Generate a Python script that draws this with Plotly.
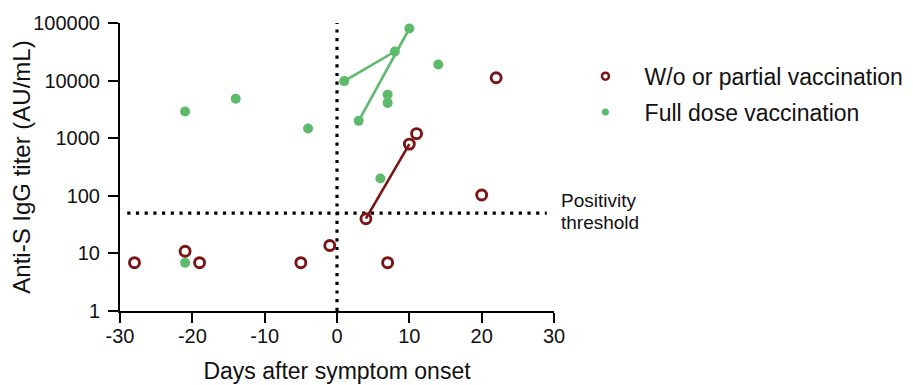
import plotly.graph_objects as go

# ---- data ----
full_days = [-21, -14, -4, 1, 8, 10, 3, 7, 7, 14, 6, -21]
full_titer = [2900, 4850, 1470, 9800, 32000, 80000, 2000, 5700, 4100, 19000, 200, 6.9]

partial_days = [-28, -21, -19, -5, -1, 4, 7, 10, 11, 20, 22]
partial_titer = [6.9, 10.9, 6.9, 6.9, 13.7, 40, 6.9, 790, 1200, 103, 11200]

# paired follow-up samples (same patient)
full_pairs = [([1, 8], [9800, 32000]), ([3, 10], [2000, 80000])]
partial_pairs = [([4, 10], [40, 790])]

THRESHOLD = 50
x_ticks = [-30, -20, -10, 0, 10, 20, 30]
x_ticktext = ["-30", "-20", "-10", "0", "10", "20", "30"]
y_ticks = [1, 10, 100, 1000, 10000, 100000]
y_ticktext = ["1", "10", "100", "1000", "10000", "100000"]

GREEN = "#5CBA6B"
RED = "#7A1417"
FONT = "Liberation Sans, Arial, sans-serif"
TXT = "#111111"

fig = go.Figure()

# reference lines
fig.add_trace(go.Scatter(x=[-29, 29], y=[THRESHOLD, THRESHOLD], mode="lines",
                         line=dict(color="black", width=3.2, dash="3.2px,5.5px"),
                         showlegend=False, hoverinfo="skip"))
fig.add_trace(go.Scatter(x=[0, 0], y=[1, 100000], mode="lines",
                         line=dict(color="black", width=3.2, dash="3.2px,5.5px"),
                         showlegend=False, hoverinfo="skip"))

# connecting lines
for xs, ys in full_pairs:
    fig.add_trace(go.Scatter(x=xs, y=ys, mode="lines", line=dict(color=GREEN, width=2.6),
                             showlegend=False, hoverinfo="skip"))
for xs, ys in partial_pairs:
    fig.add_trace(go.Scatter(x=xs, y=ys, mode="lines", line=dict(color=RED, width=2.6),
                             showlegend=False, hoverinfo="skip"))

# points
fig.add_trace(go.Scatter(x=full_days, y=full_titer, mode="markers",
                         marker=dict(color=GREEN, size=10, line=dict(width=0)),
                         showlegend=False, cliponaxis=False))
fig.add_trace(go.Scatter(x=partial_days, y=partial_titer, mode="markers",
                         marker=dict(symbol="circle-open", color=RED, size=10, line=dict(width=2.9, color=RED)),
                         showlegend=False, cliponaxis=False))

# legend entries
NB = "\u00a0" * 3
fig.add_trace(go.Scatter(x=[None], y=[None], mode="markers", name=NB + "W/o or partial vaccination",
                         legendgroup="a",
                         marker=dict(symbol="circle-open", color=RED, size=7, line=dict(width=2.5, color=RED))))
fig.add_trace(go.Scatter(x=[None], y=[None], mode="markers", name=NB + "Full dose vaccination",
                         legendgroup="b",
                         marker=dict(color=GREEN, size=7)))

# plot area in screen px: x 120..553.6, y 23.3..310.7 (page has 8px body margin)
def px_x(p):
    return (p - 120) / 433.6

def px_y(p):
    return 1 - (p - 23.3) / 287.4

fig.add_annotation(text="Positivity", xref="paper", yref="paper", x=px_x(559), y=px_y(200),
                   xanchor="left", yanchor="middle", showarrow=False,
                   font=dict(size=19, color=TXT, family=FONT))
fig.add_annotation(text="threshold", xref="paper", yref="paper", x=px_x(559), y=px_y(222),
                   xanchor="left", yanchor="middle", showarrow=False,
                   font=dict(size=19, color=TXT, family=FONT))

axis_common = dict(showline=True, linewidth=2, linecolor="black", ticks="outside", ticklen=10,
                   tickwidth=2, tickcolor="black", showgrid=False, zeroline=False,
                   tickfont=dict(size=20, color=TXT, family=FONT), mirror=False)

fig.update_xaxes(range=[-30, 30], tickvals=x_ticks, ticktext=x_ticktext, **axis_common,
                 ticklabelstandoff=-4,
                 title=dict(text="Days after symptom onset", font=dict(size=23, color=TXT, family=FONT), standoff=17))
fig.update_yaxes(type="log", range=[0, 5], tickvals=y_ticks, ticktext=y_ticktext, **axis_common,
                 ticklabelstandoff=4,
                 title=dict(text="Anti-S IgG titer (AU/mL)", font=dict(size=24, color=TXT, family=FONT), standoff=2))

fig.update_layout(
    width=905, height=377,
    margin=dict(l=112, r=359, t=15, b=74, autoexpand=False),
    plot_bgcolor="white", paper_bgcolor="white",
    font=dict(family=FONT, color=TXT),
    legend=dict(x=px_x(585), y=px_y(55), xanchor="left", yanchor="top",
                tracegroupgap=3,
                font=dict(size=23, color=TXT, family=FONT), bgcolor="rgba(0,0,0,0)"),
    showlegend=True,
)

fig.write_html("out.html")
